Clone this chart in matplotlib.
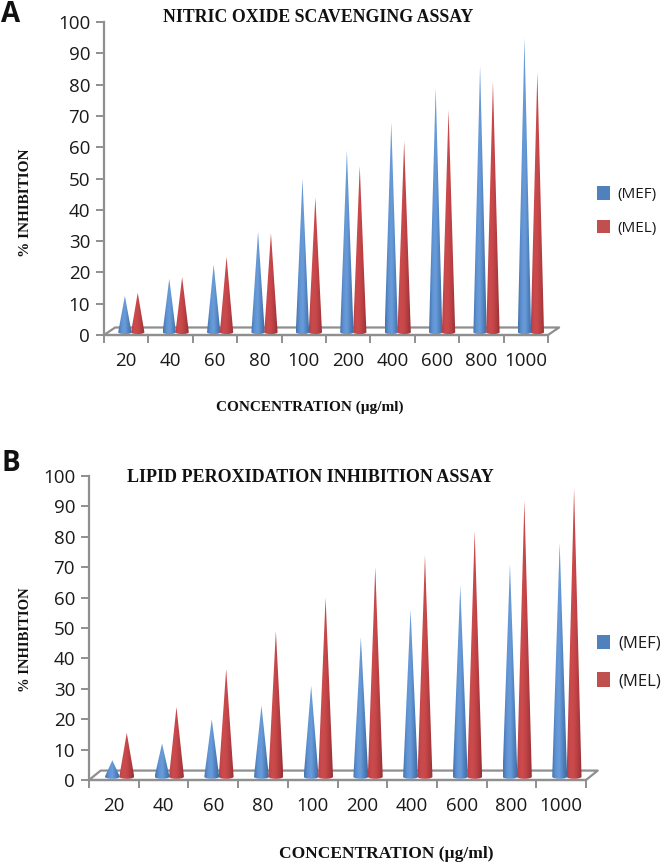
import numpy as np
import matplotlib
matplotlib.use('Agg')
import matplotlib.pyplot as plt
from matplotlib.colors import LinearSegmentedColormap
from matplotlib.patches import Patch, Polygon

W, H = 661, 865

concentrations = ['20', '40', '60', '80', '100', '200', '400', '600', '800', '1000']
no_mef = [12.5, 18, 22.5, 33, 50, 59, 68, 79, 86, 95]
no_mel = [13.5, 18.5, 25, 32.5, 44, 54, 62, 72, 81, 84]
lp_mef = [6.5, 12, 20, 24.5, 31, 47, 56, 64, 71, 78]
lp_mel = [15.5, 24, 36.5, 49, 60, 70, 74, 82, 92, 96]

AXIS_GREY = '#8f8f8f'
BLUE = '#4f81bd'
RED = '#c0504d'
blue_map = LinearSegmentedColormap.from_list('b', ['#4473ad', '#5f93d3', '#6a9cd9', '#4f82c0', '#41699c'])
red_map = LinearSegmentedColormap.from_list('r', ['#b5404a', '#cc4b4c', '#c8474a', '#b23d40', '#953034'])
grad = np.linspace(0, 1, 64).reshape(1, -1)


def cone(ax, x, value, half, base, drop, cmap):
    # cone body, gradient clipped to the triangle + elliptical foot
    t = np.linspace(0, np.pi, 30)
    foot_x = x + half * np.cos(t)
    foot_y = base - drop * np.sin(t)
    verts = np.column_stack([np.r_[foot_x, x], np.r_[foot_y, value]])
    im = ax.imshow(grad, extent=[x - half, x + half, base - drop, value], cmap=cmap,
                   aspect='auto', zorder=3, clip_on=True, interpolation='bilinear')
    clip = Polygon(verts, closed=True, transform=ax.transData, fc='none', ec='none')
    ax.add_patch(clip)
    im.set_clip_path(clip)


def panel(box, mef, mel, half, base, drop, floor_dx, floor_dy):
    left, right, top, bottom = box
    ax = fig.add_axes([left / W, 1 - bottom / H, (right - left) / W, (bottom - top) / H])
    ax.patch.set_alpha(0)
    for i in range(len(concentrations)):
        cone(ax, i + 0.47, mef[i], half, base, drop, blue_map)
        cone(ax, i + 0.76, mel[i], half, base, drop, red_map)
    ax.set_xlim(0, 10)
    ax.set_ylim(0, 100)
    # floor of the 3d box
    n = len(concentrations)
    ax.plot([0, floor_dx, n + floor_dx, n, 0], [0, floor_dy, floor_dy, 0, 0],
            color=AXIS_GREY, lw=1.6, zorder=2, clip_on=False)
    ax.set_yticks(np.arange(0, 101, 10))
    ax.set_xticks(np.arange(0, n + 1))
    ax.set_xticklabels([])
    ax.set_xticks(np.arange(n) + 0.5, labels=concentrations, minor=True)
    ax.tick_params(axis='x', which='minor', length=0, pad=12, labelsize=13.5, labelcolor='#1a1a1a')
    ax.tick_params(axis='x', which='major', length=6, width=1.4, color=AXIS_GREY)
    ax.tick_params(axis='y', length=6, width=1.4, color=AXIS_GREY, labelsize=13.5,
                   labelcolor='#1a1a1a', pad=4)
    for s in ['top', 'right']:
        ax.spines[s].set_visible(False)
    for s in ['left', 'bottom']:
        ax.spines[s].set_color(AXIS_GREY)
        ax.spines[s].set_linewidth(1.6)
    return ax


def put(x, y, s, **kw):
    fig.text(x / W, 1 - y / H, s, ha='center', va='center', **kw)


plt.rcParams['font.family'] = ['Open Sans', 'DejaVu Sans']
fig = plt.figure(figsize=(W / 100, H / 100), dpi=100, facecolor='white')

panel((104, 548, 22, 335), no_mef, no_mel, 0.15, 0.9, 0.6, 0.25, 2.4)
panel((89, 586, 476, 780), lp_mef, lp_mel, 0.15, 1.1, 0.7, 0.235, 3.1)

serif = dict(family='Liberation Serif', weight='bold', color='#111111')
put(318, 17, 'NITRIC OXIDE SCAVENGING ASSAY', fontsize=12.8, **serif)
put(310, 478, 'LIPID PEROXIDATION INHIBITION ASSAY', fontsize=13, **serif)
put(310, 407, 'CONCENTRATION (µg/ml)', fontsize=11, **serif)
put(386, 854, 'CONCENTRATION (µg/ml)', fontsize=12.5, **serif)
put(26, 203, '% INHIBITION', fontsize=11, rotation=90, **serif)
put(26, 640, '% INHIBITION', fontsize=10.5, rotation=90, **serif)
put(11, 15, 'A', fontsize=20, weight='bold', color='#111111')
put(11, 464, 'B', fontsize=20, weight='bold', color='#111111')

handles = [Patch(fc=BLUE, ec='none'), Patch(fc=RED, ec='none')]
for cx, cy, fs, space in [(627, 211, 11, 1.15), (629, 662, 12, 1.25)]:
    fig.legend(handles, ['(MEF)', '(MEL)'], loc='center', bbox_to_anchor=(cx / W, 1 - cy / H),
               frameon=False, fontsize=fs, handlelength=0.8, handleheight=0.95,
               handletextpad=0.5, labelspacing=space, labelcolor='#1a1a1a')

fig.savefig('out.png', dpi=100)
